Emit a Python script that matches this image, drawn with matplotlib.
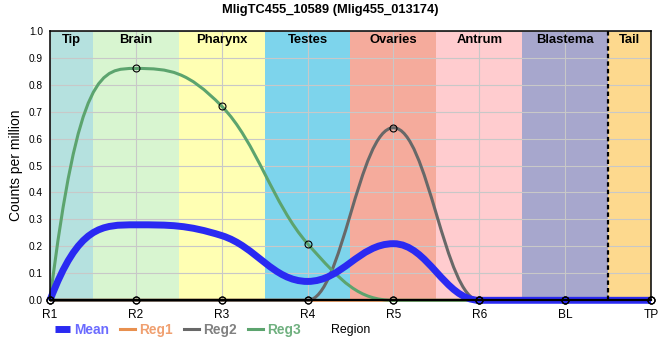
import numpy as np
import matplotlib
matplotlib.use("Agg")
import matplotlib.pyplot as plt
from matplotlib.path import Path
from matplotlib.patches import PathPatch
from matplotlib.lines import Line2D

plt.rcParams['font.family'] = ['Liberation Sans', 'DejaVu Sans']

# data
regions = ['R1', 'R2', 'R3', 'R4', 'R5', 'R6', 'BL', 'TP']
band_names = ['Tip', 'Brain', 'Pharynx', 'Testes', 'Ovaries', 'Antrum', 'Blastema', 'Tail']
band_colors = ['#b5e1df', '#d8f5d0', '#ffffb3', '#7dd4ec', '#f5ab9c', '#ffcccf', '#a7a7cd', '#fdd98e']
mean = [0, 0.28, 0.24, 0.07, 0.21, 0, 0, 0]
reg1 = [0, 0, 0, 0, 0, 0, 0, 0]
reg2 = [0, 0, 0, 0, 0.64, 0, 0, 0]
reg3 = [0, 0.86, 0.72, 0.21, 0, 0, 0, 0]


def spline_path(xs, ys, smooth=1.5):
    """cubic bezier spline through the points (highcharts-like)"""
    n = len(xs)
    lc = [None] * n
    rc = [None] * n
    d = smooth + 1
    for i in range(1, n - 1):
        x, y = xs[i], ys[i]
        xp, yp = xs[i - 1], ys[i - 1]
        xn, yn = xs[i + 1], ys[i + 1]
        lx, ly = (smooth * x + xp) / d, (smooth * y + yp) / d
        rx, ry = (smooth * x + xn) / d, (smooth * y + yn) / d
        corr = ((ry - ly) * (rx - x)) / (rx - lx) + y - ry
        ly += corr
        ry += corr
        if ly > max(yp, y) or ly < min(yp, y):
            ly = max(yp, y) if ly > max(yp, y) else min(yp, y)
            ry = 2 * y - ly
        if ry > max(yn, y) or ry < min(yn, y):
            ry = max(yn, y) if ry > max(yn, y) else min(yn, y)
            ly = 2 * y - ry
        lc[i] = (lx, ly)
        rc[i] = (rx, ry)
    rc[0] = (xs[0] + (xs[1] - xs[0]) / 3, ys[1])
    lc[-1] = (xs[-1] - (xs[-1] - xs[-2]) / 3, ys[-2])
    verts = [(xs[0], ys[0])]
    codes = [Path.MOVETO]
    for i in range(1, n):
        verts += [rc[i - 1], lc[i], (xs[i], ys[i])]
        codes += [Path.CURVE4] * 3
    return Path(verts, codes)


fig = plt.figure(figsize=(6.6, 3.6), dpi=100)
ax = fig.add_axes([50 / 660, 1 - 300.3 / 360, 601 / 660, 269.6 / 360])
x = np.arange(len(regions))
ax.set_xlim(x[0], x[-1])
ax.set_ylim(0, 1)

# region bands + labels
for i, (name, col) in enumerate(zip(band_names, band_colors)):
    ax.axvspan(i - 0.5, i + 0.5, color=col, lw=0, zorder=0.5)
    cx = (max(i - 0.5, x[0]) + min(i + 0.5, x[-1])) / 2
    ax.text(cx, 1 - 9 / 270, name, ha='center', va='center', fontsize=9.4,
            fontweight='bold', color='black', zorder=7)

ax.set_axisbelow('line')
ax.grid(True, color='#c8c8c8', lw=0.8)
ax.axvline(6.5, color='black', lw=1.6, ls=(0, (2, 1.4)), zorder=5)

# series
series = [('Reg1', reg1, '#e8904f', '#f0a070', 2.2),
          ('Reg2', reg2, '#686868', '#808080', 2.2),
          ('Reg3', reg3, '#5ca46e', '#6fb07f', 2.2)]
for name, vals, col, tcol, lw in series:
    ax.add_patch(PathPatch(spline_path(x, vals), facecolor='none', edgecolor=col,
                           lw=lw, zorder=3, clip_on=False))
ax.add_patch(PathPatch(spline_path(x, mean), facecolor='none', edgecolor='#2a2af2',
                       lw=5, zorder=4, clip_on=False))
for name, vals, col, tcol, lw in series:
    ax.plot(x, vals, 'o', mfc='none', mec='black', ms=5, mew=0.8, zorder=8, clip_on=False)

# axes styling
for s in ax.spines.values():
    s.set_color('black')
    s.set_linewidth(1.1)
    s.set_zorder(6)
ax.spines['bottom'].set_linewidth(1.6)
ax.set_yticks(np.arange(0, 1.01, 0.1))
ax.set_yticklabels([f'{v:.1f}' for v in np.arange(0, 1.01, 0.1)], fontsize=7.3)
ax.set_xticks(x)
ax.set_xticklabels(regions, fontsize=8.6)
ax.tick_params(axis='both', length=0)
ax.tick_params(axis='y', pad=5)
ax.tick_params(axis='x', pad=6)

fig.text(330 / 660, 1 - 10 / 360, 'MligTC455_10589 (Mlig455_013174)', ha='center', va='center',
         fontsize=9.3, fontweight='bold')
fig.text(16 / 660, 1 - 165 / 360, 'Counts per million', rotation=90, ha='center', va='center',
         fontsize=10)
fig.text(351 / 660, 1 - 330 / 360, 'Region', ha='center', va='center', fontsize=8.9)

# legend
handles = [Line2D([0], [0], color='#2a2af2', lw=5, solid_capstyle='butt')]
labels = ['Mean']
tcols = ['#6b6bff']
for name, vals, col, tcol, lw in series:
    handles.append(Line2D([0], [0], color=col, lw=lw))
    labels.append(name)
    tcols.append(tcol)
leg = fig.legend(handles, labels, loc='center left', bbox_to_anchor=(55 / 660, 1 - 330 / 360),
                 ncol=4, frameon=False, handlelength=1.1, handletextpad=0.3, columnspacing=0.8,
                 borderpad=0, borderaxespad=0, prop={'size': 9.9, 'weight': 'bold'})
for t, c in zip(leg.get_texts(), tcols):
    t.set_color(c)

fig.savefig('out.png', dpi=100)
